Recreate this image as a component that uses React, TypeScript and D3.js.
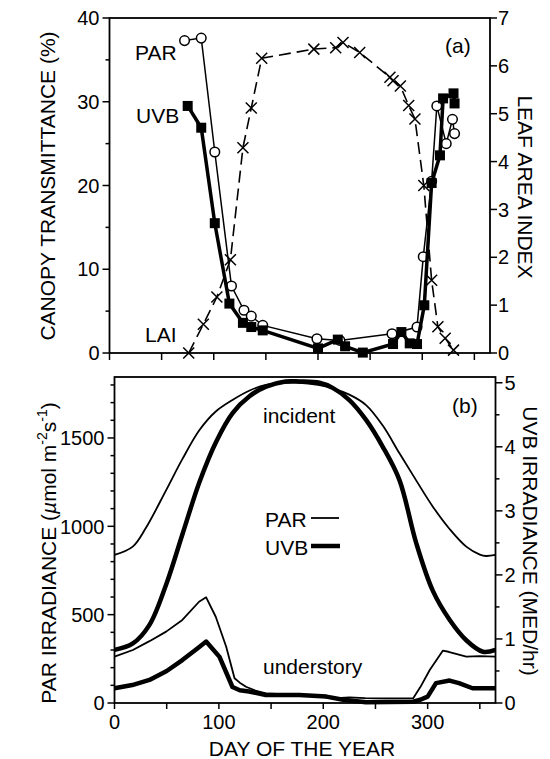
import React from "react";
import * as d3 from "d3";

// ---------- Panel (a): canopy transmittance & LAI ----------
const parDays = [72, 88, 101, 117, 129, 136, 147, 199, 221, 271, 295, 301, 309, 314, 323, 329, 331];
const parTrans = [37.3, 37.6, 24.0, 8.0, 5.1, 4.4, 3.3, 1.7, 1.5, 2.3, 3.1, 11.5, 20.5, 29.5, 25.0, 27.9, 26.2];

const uvbDays = [75, 88, 101, 115, 128, 136, 147, 200, 219, 226, 243, 272, 280, 288, 295, 302, 309, 317, 320, 330, 331];
const uvbTrans = [29.5, 26.9, 15.5, 5.9, 3.6, 3.1, 2.7, 0.55, 1.6, 0.8, 0.05, 1.07, 2.5, 1.15, 1.07, 5.7, 20.3, 23.6, 30.4, 31.0, 29.8];

const laiDays = [76, 90, 103, 116, 128, 136, 146, 196, 217, 224, 240, 269, 272, 279, 287, 293, 301.5, 309, 315, 322, 330];
const laiVals = [0, 0.6, 1.17, 1.95, 4.29, 5.12, 6.16, 6.35, 6.38, 6.49, 6.28, 5.76, 5.69, 5.58, 5.17, 4.89, 3.5, 1.52, 0.55, 0.31, 0.06];

const topLeftMajor = [0, 10, 20, 30, 40];
const topLeftMinor = [5, 15, 25, 35];
const topRightTicks = [0, 1, 2, 3, 4, 5, 6, 7];
const dayTicks = [0, 50, 100, 150, 200, 250, 300, 350];
const dayLabels = [0, 100, 200, 300];

// ---------- Panel (b): irradiance ----------
const incParDays = [0, 17.5, 30, 49.5, 65, 81.4, 97, 113, 130, 145, 160, 177, 195, 209, 225, 241, 257, 273, 289, 305, 321, 337, 350, 356, 365];
const incParVals = [838, 885, 990, 1205, 1380, 1545, 1650, 1715, 1770, 1800, 1810, 1812, 1800, 1781, 1745, 1686, 1570, 1413, 1260, 1111, 985, 885, 840, 832, 838];

const incUvbDays = [0, 17.6, 33.5, 49.5, 65.4, 81.4, 97.4, 113.3, 129.3, 145.2, 164, 177, 196.4, 209, 225, 241, 257, 273, 289, 305, 321, 337, 353, 365];
const incUvbVals = [0.83, 0.93, 1.22, 1.85, 2.65, 3.45, 4.08, 4.53, 4.79, 4.94, 5.02, 5.02, 5.0, 4.92, 4.73, 4.42, 4.0, 3.48, 2.5, 1.75, 1.3, 0.98, 0.8, 0.83];

const undParDays = [0, 17.6, 33.5, 49.5, 65, 81, 87.8, 97, 107, 115, 120, 126, 135, 145, 160, 177, 195, 209, 225, 240, 257, 286, 293, 302, 314.5, 320, 337, 350, 365];
const undParVals = [262, 300, 350, 404, 470, 573, 598, 488, 318, 140, 115, 92, 70, 55, 50, 45, 38, 26, 32, 28, 26, 26, 90, 187, 296, 290, 262, 265, 262];

const undUvbDays = [0, 17, 33.5, 50, 65, 80, 87.8, 100.6, 113, 120, 129, 145, 177, 203, 219, 241, 286, 293, 300, 308, 321, 330, 343, 365];
const undUvbVals = [0.23, 0.28, 0.36, 0.5, 0.67, 0.86, 0.96, 0.72, 0.25, 0.2, 0.18, 0.125, 0.125, 0.1, 0.05, 0.01, 0.02, 0.05, 0.1, 0.31, 0.35, 0.31, 0.23, 0.23];

const botLeftMajor = [0, 500, 1000, 1500];
const botLeftMinor = [100, 200, 300, 400, 600, 700, 800, 900, 1100, 1200, 1300, 1400, 1600, 1700, 1800];
const botRightMajor = [0, 1, 2, 3, 4, 5];
const botRightMinor = [0.5, 1.5, 2.5, 3.5, 4.5];

const FONT = "'Liberation Sans', Arial, Helvetica, sans-serif";

function zip(a: number[], b: number[]): [number, number][] {
  return a.map((d, i) => [d, b[i]] as [number, number]);
}

export default function App() {
  // scales panel a
  const xA = d3.scaleLinear().domain([0, 365]).range([109.5, 490]);
  const yAL = d3.scaleLinear().domain([0, 40]).range([353, 18]);
  const yAR = d3.scaleLinear().domain([0, 7]).range([353, 18]);
  // scales panel b
  const xB = d3.scaleLinear().domain([0, 365]).range([114.5, 495.5]);
  const yBL = d3.scaleLinear().domain([0, 1845]).range([703, 377]);
  const yBR = d3.scaleLinear().domain([0, 5.09]).range([703, 377]);

  const lineA = d3.line<[number, number]>().x(d => xA(d[0])).y(d => yAL(d[1]));
  const lineLAI = d3.line<[number, number]>().x(d => xA(d[0])).y(d => yAR(d[1]));
  const smoothPar = d3.line<[number, number]>().x(d => xB(d[0])).y(d => yBL(d[1])).curve(d3.curveCatmullRom.alpha(0.5));
  const smoothUvb = d3.line<[number, number]>().x(d => xB(d[0])).y(d => yBR(d[1])).curve(d3.curveCatmullRom.alpha(0.5));
  const linPar = d3.line<[number, number]>().x(d => xB(d[0])).y(d => yBL(d[1]));
  const linUvb = d3.line<[number, number]>().x(d => xB(d[0])).y(d => yBR(d[1]));

  const par = zip(parDays, parTrans);
  const uvb = zip(uvbDays, uvbTrans);
  const lai = zip(laiDays, laiVals);

  const [a0, a1] = xA.range();
  const [aB, aT] = yAL.range();
  const [b0, b1] = xB.range();
  const [bB, bT] = yBL.range();

  const tickFs = 20;
  const labFs = 21;

  return (
    <svg width={550} height={759} style={{ position: "absolute", left: 0, top: 0, display: "block", background: "#fff" }} fontFamily={FONT}>
      <rect x={0} y={0} width={550} height={759} fill="#fff" />

      {/* ===== Panel (a) ===== */}
      <rect x={a0} y={aT} width={a1 - a0} height={aB - aT} fill="none" stroke="#000" strokeWidth={1.8} />
      {topLeftMajor.map(v => (
        <g key={"tlm" + v}>
          <line x1={a0 - 7} x2={a0} y1={yAL(v)} y2={yAL(v)} stroke="#000" strokeWidth={1.5} />
          <text x={a0 - 10} y={yAL(v)} dy="0.36em" textAnchor="end" fontSize={tickFs}>{v}</text>
        </g>
      ))}
      {topLeftMinor.map(v => (
        <line key={"tln" + v} x1={a0 - 4} x2={a0} y1={yAL(v)} y2={yAL(v)} stroke="#000" strokeWidth={1.5} />
      ))}
      {topRightTicks.map(v => (
        <g key={"tr" + v}>
          <line x1={a1} x2={a1 + 7} y1={yAR(v)} y2={yAR(v)} stroke="#000" strokeWidth={1.5} />
          <text x={a1 + 8} y={yAR(v)} dy="0.36em" textAnchor="start" fontSize={tickFs}>{v}</text>
        </g>
      ))}
      {dayTicks.map(v => (
        <line key={"ta" + v} x1={xA(v)} x2={xA(v)} y1={aB} y2={aB + 7} stroke="#000" strokeWidth={1.5} />
      ))}

      {/* LAI dashed */}
      <path d={lineLAI(lai) || ""} fill="none" stroke="#000" strokeWidth={1.6} strokeDasharray="12,6" />
      {lai.map((d, i) => (
        <path key={"x" + i} transform={`translate(${xA(d[0])},${yAR(d[1])})`} d="M-5.5,-5.5L5.5,5.5M-5.5,5.5L5.5,-5.5" stroke="#000" strokeWidth={1.5} fill="none" />
      ))}

      {/* PAR thin with circles */}
      <path d={lineA(par) || ""} fill="none" stroke="#000" strokeWidth={1.5} />
      {par.map((d, i) => (
        <circle key={"c" + i} cx={xA(d[0])} cy={yAL(d[1])} r={4.8} fill="#fff" stroke="#000" strokeWidth={1.5} />
      ))}

      {/* UVB thick with squares */}
      <path d={lineA(uvb) || ""} fill="none" stroke="#000" strokeWidth={3.5} />
      {uvb.map((d, i) => (
        <rect key={"s" + i} x={xA(d[0]) - 5} y={yAL(d[1]) - 5} width={10} height={10} fill="#000" />
      ))}

      <text x={135} y={60} fontSize={labFs}>PAR</text>
      <text x={136} y={123} fontSize={labFs}>UVB</text>
      <text x={145} y={342} fontSize={labFs}>LAI</text>
      <text x={445} y={53} fontSize={labFs}>(a)</text>

      <text transform="translate(55,186) rotate(-90)" textAnchor="middle" fontSize={labFs}>CANOPY TRANSMITTANCE (%)</text>
      <text transform="translate(518,187) rotate(90)" textAnchor="middle" fontSize={labFs}>LEAF AREA INDEX</text>

      {/* ===== Panel (b) ===== */}
      <rect x={b0} y={bT} width={b1 - b0} height={bB - bT} fill="none" stroke="#000" strokeWidth={1.8} />
      {botLeftMajor.map(v => (
        <g key={"blm" + v}>
          <line x1={b0 - 7} x2={b0} y1={yBL(v)} y2={yBL(v)} stroke="#000" strokeWidth={1.5} />
          <text x={b0 - 10} y={yBL(v)} dy="0.36em" textAnchor="end" fontSize={tickFs}>{v}</text>
        </g>
      ))}
      {botLeftMinor.map(v => (
        <line key={"bln" + v} x1={b0 - 4} x2={b0} y1={yBL(v)} y2={yBL(v)} stroke="#000" strokeWidth={1.5} />
      ))}
      {botRightMajor.map(v => (
        <g key={"brm" + v}>
          <line x1={b1} x2={b1 + 7} y1={yBR(v)} y2={yBR(v)} stroke="#000" strokeWidth={1.5} />
          <text x={b1 + 9} y={yBR(v)} dy="0.36em" textAnchor="start" fontSize={tickFs}>{v}</text>
        </g>
      ))}
      {botRightMinor.map(v => (
        <line key={"brn" + v} x1={b1} x2={b1 + 4} y1={yBR(v)} y2={yBR(v)} stroke="#000" strokeWidth={1.5} />
      ))}
      {dayTicks.map(v => (
        <line key={"tb" + v} x1={xB(v)} x2={xB(v)} y1={bB} y2={bB + 6} stroke="#000" strokeWidth={1.5} />
      ))}
      {dayLabels.map(v => (
        <text key={"lb" + v} x={xB(v)} y={729} textAnchor="middle" fontSize={tickFs}>{v}</text>
      ))}

      <path d={smoothPar(zip(incParDays, incParVals)) || ""} fill="none" stroke="#000" strokeWidth={1.8} />
      <path d={smoothUvb(zip(incUvbDays, incUvbVals)) || ""} fill="none" stroke="#000" strokeWidth={4.5} />
      <path d={linPar(zip(undParDays, undParVals)) || ""} fill="none" stroke="#000" strokeWidth={1.8} strokeLinejoin="round" />
      <path d={linUvb(zip(undUvbDays, undUvbVals)) || ""} fill="none" stroke="#000" strokeWidth={4.5} strokeLinejoin="round" />

      <text x={452} y={413} fontSize={labFs}>(b)</text>
      <text x={263} y={423} fontSize={labFs}>incident</text>
      <text x={265} y={527} fontSize={labFs}>PAR</text>
      <line x1={311} x2={339} y1={518} y2={518} stroke="#000" strokeWidth={1.8} />
      <text x={265} y={555} fontSize={labFs}>UVB</text>
      <line x1={311} x2={340} y1={546} y2={546} stroke="#000" strokeWidth={4.5} />
      <text x={263} y={674} fontSize={labFs}>understory</text>

      <text transform="translate(56,553) rotate(-90)" textAnchor="middle" fontSize={labFs}>
        PAR IRRADIANCE (<tspan fontStyle="italic">µ</tspan>mol m<tspan fontSize={14} dy={-9}>-2</tspan><tspan dy={9}>s</tspan><tspan fontSize={14} dy={-9}>-1</tspan><tspan dy={9}>)</tspan>
      </text>
      <text transform="translate(523,541) rotate(90)" textAnchor="middle" fontSize={labFs}>UVB IRRADIANCE (MED/hr)</text>
      <text x={302} y={756} textAnchor="middle" fontSize={labFs}>DAY OF THE YEAR</text>
    </svg>
  );
}
